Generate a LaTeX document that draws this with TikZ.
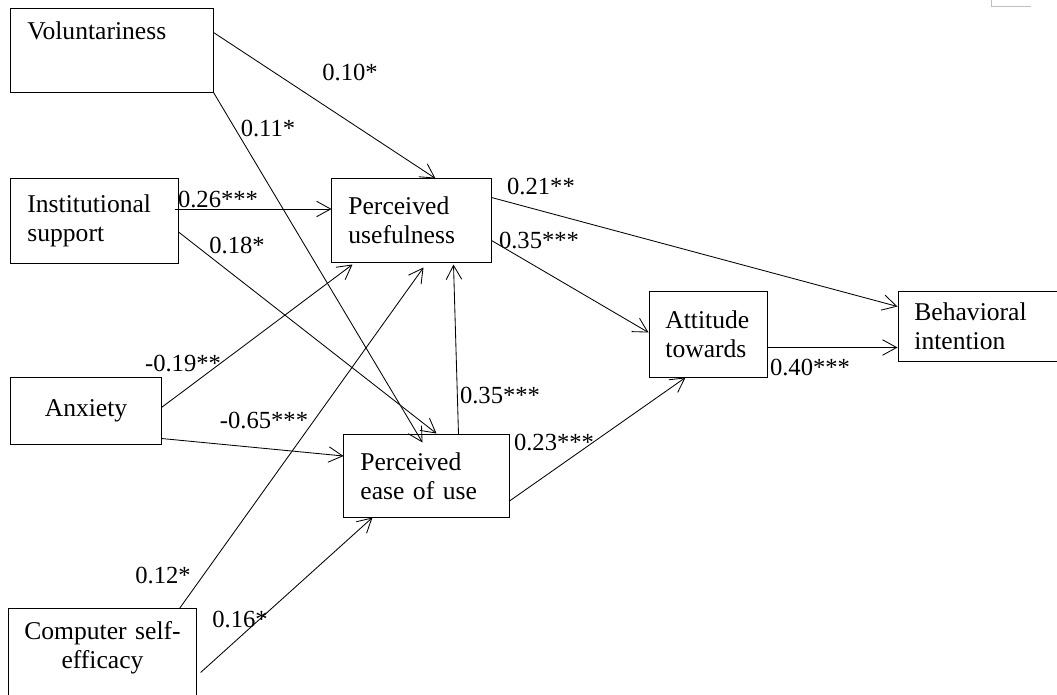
\documentclass[tikz,border=0pt]{standalone}
\usepackage{fontspec}
\setmainfont{Liberation Serif}
\usetikzlibrary{arrows.meta,calc}

\begin{document}
\begin{tikzpicture}[x=0.025cm,y=-0.025cm,
construct/.style={draw,line width=0.7pt,inner xsep=0.41cm,inner ysep=2pt,align=left,font=\fontsize{18.2}{20.5}\selectfont},
coef/.style={inner sep=0pt,font=\fontsize{17.5}{20}\selectfont},
arr/.style={-{Straight Barb[length=10pt,width=11pt]},line width=0.6pt}]

\useasboundingbox (0,0) rectangle (1057,695);

\node[construct,text width=4.23cm,minimum height=2.075cm] (vol) at (112,50.5) {Voluntariness\\[8pt]~};
\node[construct,text width=3.355cm,minimum height=2.1cm] (ins) at (94.5,221) {Institutional\\support};
\node[construct,text width=2.93cm,minimum height=1.675cm,align=center] (anx) at (86,410.5) {Anxiety};
\node[construct,text width=4.0cm,inner xsep=0.34cm,minimum height=2.775cm,align=center] (cse) at (102.5,664.5) {Computer self-\\efficacy\\[7pt]~};
\node[construct,text width=3.155cm,minimum height=2.075cm] (pu) at (411.5,220.5) {Perceived\\usefulness};
\node[construct,text width=3.305cm,minimum height=2.05cm] (peou) at (426.5,476) {Perceived\\ease of use};
\node[construct,text width=2.13cm,minimum height=2.125cm] (att) at (708,334.5) {Attitude\\towards};
\node[construct,text width=3.18cm,minimum height=1.725cm] (bi) at (978,326.5) {Behavioral\\intention};

% path coefficients
\node[coef] (c10) at (350,72) {0.10*};
\node[coef] (c11) at (268,128) {0.11*};
\node[coef] (c26) at (218,199) {0.26***};
\node[coef] (c18) at (237,245) {0.18*};
\node[coef] (c19) at (183,363) {-0.19**};
\node[coef] (c65) at (264,420) {-0.65***};
\node[coef] (c12) at (163,575) {0.12*};
\node[coef] (c16) at (240,619) {0.16*};
\node[coef] (c35a) at (500,395) {0.35***};
\node[coef] (c21) at (541,186) {0.21**};
\node[coef] (c35b) at (539,240) {0.35***};
\node[coef] (c23) at (554,442) {0.23***};
\node[coef] (c40) at (810,367) {0.40***};

\draw[arr] ($(vol.east)+(0,-18)$) -- ($(pu.north)+(24,0)$);
\draw[arr] (vol.south east) -- ($(peou.north)+(-4,8)$);
\draw[arr] ($(ins.east)+(-4,-12)$) -- ($(pu.west)+(0,-11.5)$);
\draw[arr] ($(ins.east)+(0,11)$) -- ($(peou.north)+(10,-1)$);
\draw[arr] ($(anx.east)+(0,-3)$) -- ($(pu.south west)+(21,2)$);
\draw[arr] ($(anx.east)+(0,28)$) -- ($(peou.west)+(0,-20)$);
\draw[arr] ($(cse.north)+(77,0)$) -- ($(pu.south)+(12,5)$);
\draw[arr] ($(cse.north east)+(4,64)$) -- ($(peou.south west)+(29,0)$);
\draw[arr] ($(peou.north)+(32,0)$) -- ($(pu.south)+(42,2)$);
\draw[arr] ($(pu.north east)+(0,19)$) -- ($(bi.west)+(0,-20)$);
\draw[arr] ($(pu.east)+(0,20)$) -- ($(att.west)+(0,-2)$);
\draw[arr] ($(peou.east)+(0,25)$) -- ($(att.south west)+(37,0)$);
\draw[arr] ($(att.east)+(0,13)$) -- ($(bi.west)+(0,21)$);

\draw[gray!50] (991,0) -- (991,6) -- (1031,6);

\end{tikzpicture}
\end{document}
